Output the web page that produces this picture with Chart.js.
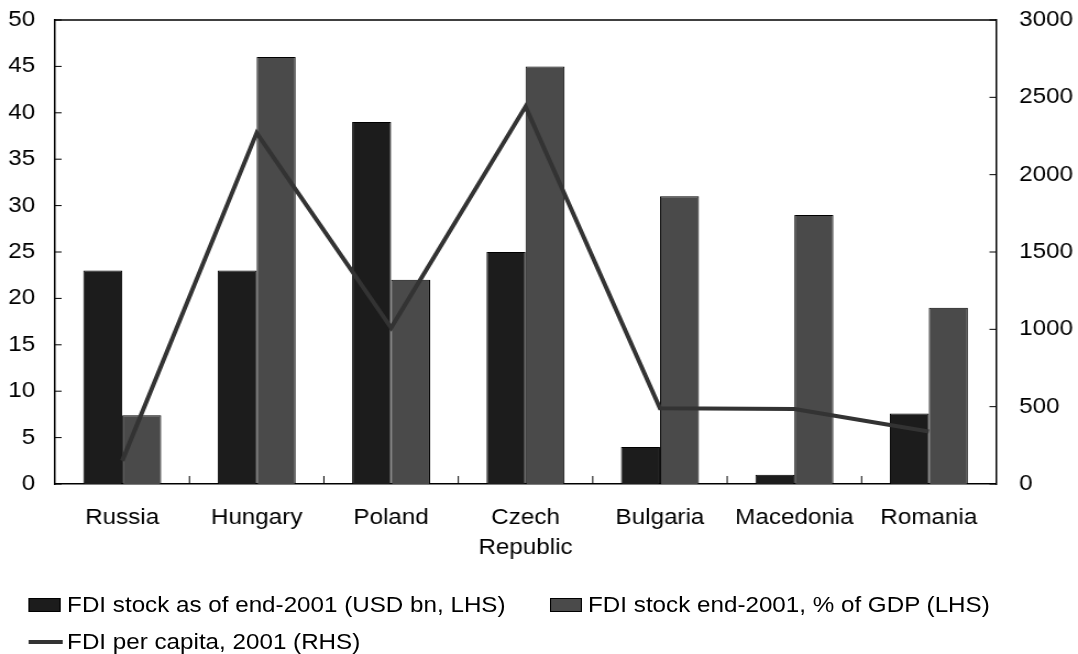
<!DOCTYPE html>
<html lang="en">
<head>
  <meta charset="UTF-8" />
  <title>FDI in Central and Eastern Europe, 2001</title>
  <script src="https://cdn.jsdelivr.net/npm/chart.js"></script>
  <style>
    body { margin: 0; background: #fff; font-family: "Liberation Sans", Arial, sans-serif; }
    /* the chart is drawn a little narrower and stretched sideways */
    #wrap { position: relative; width: 980px; height: 654px; transform: scaleX(1.1); transform-origin: 0 0; }
    #legend { position: absolute; left: 26px; top: 586px; width: 940px; display: flex; flex-wrap: wrap; font-size: 22px; color: #000; }
    .item { display: flex; align-items: center; height: 37px; margin-right: 40px; white-space: nowrap; }
    .swatch { width: 27px; height: 12px; border: 1px solid #000; margin-right: 6px; }
    .swatch.line { height: 4px; border: none; width: 31px; margin-right: 4px; }
  </style>
</head>
<body>
  <div id="wrap">
    <canvas id="fdiChart" width="980" height="580"></canvas>
    <div id="legend"></div>
  </div>

  <script>
    const countries = ['Russia', 'Hungary', 'Poland', ['Czech', 'Republic'], 'Bulgaria', 'Macedonia', 'Romania'];
    const stockUsd = [23, 23, 39, 25, 4, 1, 7.6];        // USD bn, LHS
    const stockGdp = [7.4, 46, 22, 45, 31, 29, 19];      // % of GDP, LHS
    const perCapita = [150, 2270, 1010, 2440, 490, 485, 340]; // USD, RHS

    const font = { family: '"Liberation Sans", Arial, sans-serif', size: 22 };

    // frame on top plus short tick marks pointing into the plot
    const innerTicks = {
      id: 'innerTicks',
      afterDraw(chart) {
        const { ctx, chartArea: a, scales } = chart;
        ctx.save();
        ctx.strokeStyle = '#000';
        ctx.lineWidth = 1.5;
        ctx.beginPath();
        ctx.moveTo(a.left, a.top);
        ctx.lineTo(a.right, a.top);
        ctx.stroke();
        ctx.lineWidth = 1;
        ctx.beginPath();
        scales.y.ticks.forEach(t => {
          const y = scales.y.getPixelForValue(t.value);
          ctx.moveTo(a.left, y);
          ctx.lineTo(a.left + 6, y);
        });
        scales.y1.ticks.forEach(t => {
          const y = scales.y1.getPixelForValue(t.value);
          ctx.moveTo(a.right, y);
          ctx.lineTo(a.right - 6, y);
        });
        for (let i = 1; i < countries.length; i++) {
          const x = (scales.x.getPixelForValue(i - 1) + scales.x.getPixelForValue(i)) / 2;
          ctx.moveTo(x, a.bottom);
          ctx.lineTo(x, a.bottom - 8);
        }
        ctx.stroke();
        ctx.restore();
      }
    };

    // vertical axes: fixed width, and no extra room above/below for the labels
    const fitSide = w => scale => {
      scale.width = w;
      scale.paddingTop = 0;
      scale.paddingBottom = 0;
    };

    const chart = new Chart(document.getElementById('fdiChart'), {
      type: 'bar',
      data: {
        labels: countries,
        datasets: [
          {
            label: 'FDI stock as of end-2001 (USD bn, LHS)',
            data: stockUsd,
            backgroundColor: '#1c1c1c',
            borderColor: '#000',
            borderWidth: 1,
            yAxisID: 'y'
          },
          {
            label: 'FDI stock end-2001, % of GDP (LHS)',
            data: stockGdp,
            backgroundColor: '#4a4a4a',
            borderColor: '#000',
            borderWidth: 1,
            yAxisID: 'y'
          },
          {
            type: 'line',
            label: 'FDI per capita, 2001 (RHS)',
            data: perCapita,
            borderColor: '#333333',
            backgroundColor: '#333333',
            borderWidth: 4,
            pointRadius: 0,
            tension: 0,
            yAxisID: 'y1',
            order: -1
          }
        ]
      },
      options: {
        responsive: false,
        animation: false,
        layout: { padding: { top: 20, left: 0, right: 0, bottom: 0 } },
        datasets: { bar: { categoryPercentage: 0.58, barPercentage: 1.0 } },
        plugins: {
          legend: { display: false },
          tooltip: { enabled: false }
        },
        scales: {
          x: {
            grid: { display: false, drawTicks: false },
            border: { color: '#000', width: 1.5 },
            ticks: { font: { ...font, lineHeight: 1.36 }, color: '#000', padding: 19, maxRotation: 0, autoSkip: false },
            afterFit(scale) { scale.height = 96; }
          },
          y: {
            position: 'left',
            min: 0,
            max: 50,
            grid: { display: false, drawTicks: false },
            border: { color: '#000', width: 1.5 },
            ticks: { stepSize: 5, font, color: '#000', padding: 18 },
            afterFit: fitSide(50)
          },
          y1: {
            position: 'right',
            min: 0,
            max: 3000,
            grid: { display: false, drawTicks: false },
            border: { color: '#000', width: 1.5 },
            ticks: { stepSize: 500, font, color: '#000', padding: 21, callback: v => String(v) },
            afterFit: fitSide(74.5)
          }
        }
      },
      plugins: [innerTicks]
    });

    // legend below the chart, built from the datasets
    const legend = document.getElementById('legend');
    chart.data.datasets.forEach(ds => {
      const item = document.createElement('div');
      item.className = 'item';
      const sw = document.createElement('span');
      sw.className = ds.type === 'line' ? 'swatch line' : 'swatch';
      sw.style.background = ds.backgroundColor;
      item.appendChild(sw);
      item.appendChild(document.createTextNode(ds.label));
      legend.appendChild(item);
    });
  </script>
</body>
</html>
